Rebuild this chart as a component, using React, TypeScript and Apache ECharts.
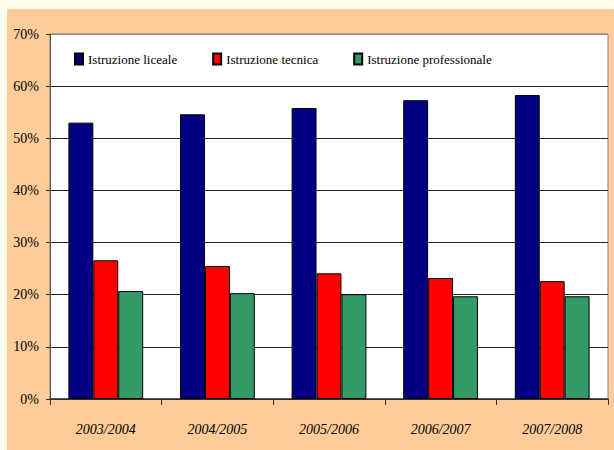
import React, { useEffect, useRef } from "react";
import * as echarts from "echarts";

const categories = ["2003/2004", "2004/2005", "2005/2006", "2006/2007", "2007/2008"];
const seriesNames = ["Istruzione liceale", "Istruzione tecnica", "Istruzione professionale"];
const liceale = [53.0, 54.6, 55.8, 57.3, 58.3];
const tecnica = [26.6, 25.5, 24.1, 23.2, 22.6];
const professionale = [20.7, 20.3, 20.1, 19.7, 19.7];
const colors = ["#000080", "#FF0000", "#339966"];

const FONT = "Liberation Serif, Times New Roman, serif";

export default function App() {
  const ref = useRef<HTMLDivElement>(null);
  useEffect(() => {
    if (!ref.current) return;
    const chart = echarts.init(ref.current, undefined, { renderer: "svg" });
    const values = [liceale, tecnica, professionale];
    chart.setOption({
      animation: false,
      backgroundColor: "#FFFEEC",
      textStyle: { fontFamily: FONT },
      graphic: [
        {
          type: "rect",
          z: -10,
          shape: { x: 7, y: 9, width: 607, height: 441 },
          style: { fill: "#FFCC99" },
          silent: true,
        },
      ],
      grid: {
        left: 50,
        right: 6,
        top: 34,
        bottom: 51,
        show: true,
        backgroundColor: "#FFFFFF",
        borderColor: "#808080",
        borderWidth: 1,
      },
      legend: {
        top: 52,
        left: 74,
        padding: 0,
        itemWidth: 8,
        itemHeight: 11,
        itemGap: 35,
        icon: "rect",
        textStyle: { fontFamily: FONT, fontSize: 13, color: "#000", lineHeight: 14 },
        data: seriesNames,
      },
      xAxis: {
        type: "category",
        data: categories,
        axisLine: { lineStyle: { color: "#333", width: 1.5 } },
        axisTick: { show: true, length: 6, lineStyle: { color: "#333" } },
        axisLabel: {
          margin: 23,
          fontFamily: FONT,
          fontSize: 14,
          fontStyle: "italic",
          color: "#000",
        },
      },
      yAxis: {
        type: "value",
        min: 0,
        max: 70,
        interval: 10,
        axisLine: { show: true, lineStyle: { color: "#555" } },
        axisTick: { show: true, length: 4, lineStyle: { color: "#333" } },
        axisLabel: {
          formatter: "{value}%",
          margin: 11,
          fontFamily: FONT,
          fontSize: 14,
          color: "#000",
        },
        splitLine: {
          show: true,
          lineStyle: {
            color: ["#222", "#222", "#222", "#222", "#222", "#222", "#222", "#888"],
            width: 1,
          },
        },
      },
      series: seriesNames.map((name, i) => ({
        name,
        type: "bar",
        data: values[i],
        barGap: "0%",
        barCategoryGap: "33%",
        itemStyle: { color: colors[i], borderColor: "#000", borderWidth: 1 },
      })),
    });
    return () => chart.dispose();
  }, []);
  return (
    <div
      ref={ref}
      style={{ position: "absolute", left: 0, top: 0, width: 614, height: 450 }}
    />
  );
}
